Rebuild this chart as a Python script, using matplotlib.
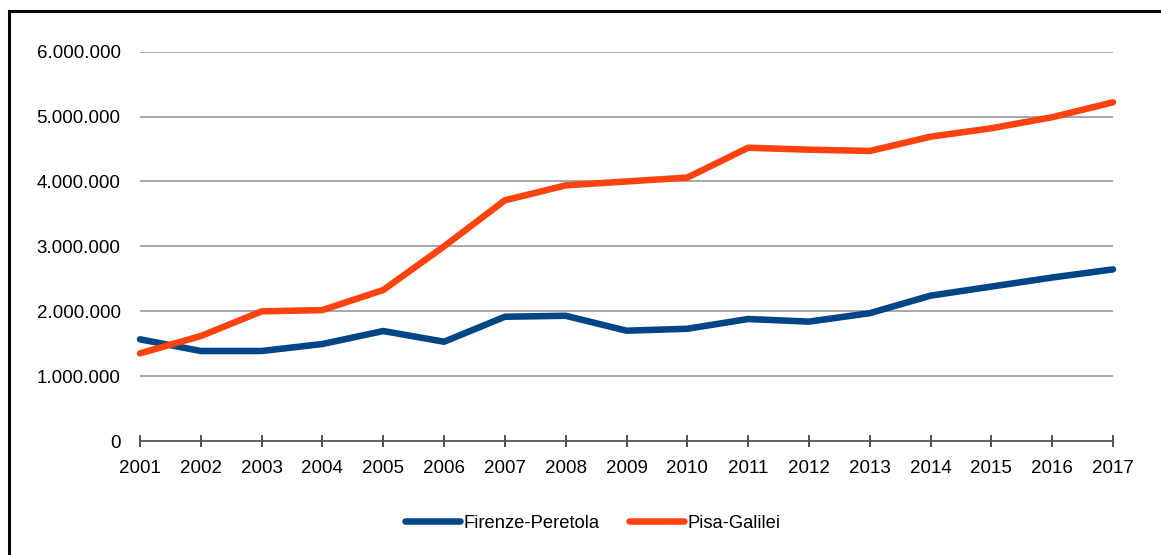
import matplotlib
matplotlib.use("Agg")
import matplotlib.pyplot as plt
from matplotlib.patches import Rectangle
from matplotlib.ticker import FuncFormatter

plt.rcParams['font.family'] = ['Liberation Sans', 'DejaVu Sans']

# Passeggeri annui per aeroporto
years = list(range(2001, 2018))
firenze = [1.567e6, 1.387e6, 1.387e6, 1.495e6, 1.695e6, 1.530e6, 1.915e6, 1.930e6, 1.700e6,
           1.730e6, 1.880e6, 1.840e6, 1.970e6, 2.240e6, 2.380e6, 2.520e6, 2.645e6]
pisa = [1.351e6, 1.618e6, 1.998e6, 2.018e6, 2.327e6, 3.000e6, 3.710e6, 3.940e6, 4.000e6,
        4.060e6, 4.520e6, 4.490e6, 4.470e6, 4.690e6, 4.820e6, 4.990e6, 5.220e6]
labels = ['Firenze-Peretola', 'Pisa-Galilei']
colors = ['#004586', '#ff420e']

W, H = 1161, 555
fig = plt.figure(figsize=(W / 100, H / 100), dpi=100)
ax = fig.add_axes([140 / W, (H - 441) / H, (1113 - 140) / W, (441 - 51.7) / H])

for series, lab, col in zip([firenze, pisa], labels, colors):
    ax.plot(years, series, color=col, lw=4.7, label=lab, solid_capstyle='round',
            solid_joinstyle='round', clip_on=False, zorder=3)

ax.set_xlim(2001, 2017)
ax.set_ylim(0, 6e6)
ax.set_xticks(years)
ax.set_yticks(range(0, 6000001, 1000000))
ax.yaxis.set_major_formatter(FuncFormatter(lambda v, p: f"{int(v):,}".replace(",", ".")))

for y in range(1000000, 6000001, 1000000):
    ax.axhline(y, color='#a0a0a0', lw=1.3, zorder=1)

for s in ['top', 'right', 'left']:
    ax.spines[s].set_visible(False)
ax.spines['bottom'].set_color('#555555')
ax.spines['bottom'].set_linewidth(1.3)
ax.tick_params(axis='x', direction='inout', length=9, width=1.2, color='#333333',
               labelsize=13.5, pad=9)
ax.tick_params(axis='y', length=0, labelsize=13.5, pad=14)

fig.legend(loc='center', bbox_to_anchor=(593 / W, (H - 523) / H), ncol=2, frameon=False,
           fontsize=13.2, handlelength=3.0, handletextpad=0.2, columnspacing=1.6)

fig.patches.append(Rectangle((9 / W, -0.1), 2, (H - 11) / H + 0.1, transform=fig.transFigure,
                             fill=False, edgecolor='black', lw=2.2))

fig.savefig('out.png', dpi=100)
